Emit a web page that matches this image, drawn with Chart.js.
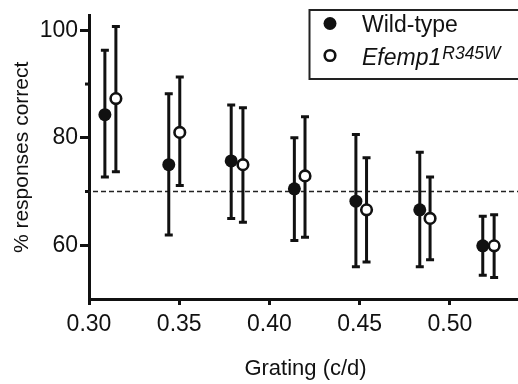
<!DOCTYPE html>
<html>
<head>
<meta charset="utf-8">
<script src="https://cdn.jsdelivr.net/npm/chart.js@4.4.1/dist/chart.umd.min.js"></script>
<style>
  html, body { margin: 0; padding: 0; background: #fff; overflow: hidden; }
  #wrap { position: relative; width: 530px; height: 384px; }
</style>
</head>
<body>
<div id="wrap"><canvas id="c" width="530" height="384"></canvas></div>
<script>
// ---- data ----
const seriesNames = ["Wild-type", "Efemp1"];
const seriesSup = ["", "R345W"];
const wtX  = [0.3088, 0.3442, 0.3788, 0.4138, 0.4479, 0.4833, 0.5182];
const wtY  = [84.3, 75.0, 75.7, 70.5, 68.2, 66.6, 59.9];
const wtHi = [96.3, 88.2, 86.1, 80.0, 80.6, 77.3, 65.4];
const wtLo = [72.7, 61.9, 65.0, 60.9, 56.0, 56.0, 54.4];
const efX  = [0.3149, 0.3503, 0.3853, 0.4197, 0.4538, 0.4890, 0.5245];
const efY  = [87.3, 81.0, 75.0, 72.9, 66.6, 65.0, 59.9];
const efHi = [100.7, 91.3, 85.6, 83.9, 76.3, 72.7, 65.7];
const efLo = [73.7, 71.1, 64.3, 61.5, 56.9, 57.3, 54.0];
const xTicks = [0.30, 0.35, 0.40, 0.45, 0.50];
const yTicks = [60, 80, 100];
const yMinorTicks = [70, 90];
const thresholdValue = 70;
const xTitle = "Grating (c/d)";
const yTitle = "% responses correct";

const FONT = "'Liberation Sans', Arial, Helvetica, sans-serif";
const INK = "#111";

const errLo = [wtLo, efLo];
const errHi = [wtHi, efHi];

const errorBars = {
  id: 'errorBars',
  beforeDatasetsDraw(chart) {
    const { ctx, scales: { x, y }, chartArea } = chart;
    ctx.save();
    // threshold dashed line
    const ty = y.getPixelForValue(thresholdValue);
    ctx.strokeStyle = '#222';
    ctx.lineWidth = 1.5;
    ctx.setLineDash([5, 3]);
    ctx.beginPath();
    ctx.moveTo(chartArea.left - 4, ty);
    ctx.lineTo(chart.width, ty);
    ctx.stroke();
    ctx.setLineDash([]);
    // error bars
    ctx.strokeStyle = INK;
    ctx.lineWidth = 3;
    chart.data.datasets.forEach((ds, i) => {
      ds.data.forEach((p, j) => {
        const px = x.getPixelForValue(p.x);
        const yh = y.getPixelForValue(errHi[i][j]);
        const yl = y.getPixelForValue(errLo[i][j]);
        ctx.beginPath();
        ctx.moveTo(px, yh); ctx.lineTo(px, yl);
        ctx.moveTo(px - 4, yh); ctx.lineTo(px + 4, yh);
        ctx.moveTo(px - 4, yl); ctx.lineTo(px + 4, yl);
        ctx.stroke();
      });
    });
    ctx.restore();
  },
  afterDraw(chart) {
    const { ctx, scales: { y }, chartArea } = chart;
    ctx.save();
    // minor ticks
    ctx.strokeStyle = INK;
    ctx.lineWidth = 3;
    yMinorTicks.forEach(v => {
      const py = y.getPixelForValue(v);
      ctx.beginPath();
      ctx.moveTo(chartArea.left - 4, py);
      ctx.lineTo(chartArea.left, py);
      ctx.stroke();
    });
    // legend
    ctx.lineWidth = 2;
    ctx.strokeStyle = '#222';
    ctx.fillStyle = '#fff';
    ctx.beginPath();
    ctx.rect(309.5, 10, 240, 69);
    ctx.fill();
    ctx.stroke();
    const rows = [23.5, 55.5];
    const bases = [32.3, 64.5];
    chart.data.datasets.forEach((ds, i) => {
      ctx.beginPath();
      ctx.arc(330, rows[i], ds.pointRadius, 0, Math.PI * 2);
      ctx.fillStyle = ds.pointBackgroundColor;
      ctx.fill();
      if (ds.pointBorderWidth > 0) {
        ctx.lineWidth = ds.pointBorderWidth;
        ctx.strokeStyle = ds.pointBorderColor;
        ctx.stroke();
      }
      ctx.fillStyle = INK;
      ctx.textBaseline = 'alphabetic';
      ctx.textAlign = 'left';
      const italic = i === 1 ? 'italic ' : '';
      ctx.font = italic + '23px ' + FONT;
      ctx.fillText(seriesNames[i], 362, bases[i]);
      if (seriesSup[i]) {
        const w = ctx.measureText(seriesNames[i]).width;
        ctx.font = italic + '17.5px ' + FONT;
        ctx.fillText(seriesSup[i], 362 + w + 1, bases[i] - 5.5);
      }
    });
    ctx.restore();
  }
};

new Chart(document.getElementById('c'), {
  type: 'scatter',
  data: {
    datasets: [
      {
        label: seriesNames[0] + seriesSup[0],
        data: wtX.map((v, i) => ({ x: v, y: wtY[i] })),
        pointRadius: 6.5,
        pointBackgroundColor: INK,
        pointBorderColor: INK,
        pointBorderWidth: 0,
        showLine: false
      },
      {
        label: seriesNames[1] + seriesSup[1],
        data: efX.map((v, i) => ({ x: v, y: efY[i] })),
        pointRadius: 5.3,
        pointBackgroundColor: '#fff',
        pointBorderColor: INK,
        pointBorderWidth: 2.6,
        showLine: false
      }
    ]
  },
  options: {
    responsive: false,
    animation: false,
    devicePixelRatio: 1,
    layout: { padding: { top: 12, right: 6.6, left: 0, bottom: 0 } },
    plugins: { legend: { display: false }, tooltip: { enabled: false } },
    scales: {
      x: {
        type: 'linear',
        min: 0.30, max: 0.54,
        afterBuildTicks: s => { s.ticks = xTicks.map(v => ({ value: v })); },
        afterFit: s => { s.height = 85; },
        ticks: { callback: v => Number(v).toFixed(2), color: INK, font: { family: FONT, size: 23 }, padding: 6, maxRotation: 0, autoSkip: false },
        grid: { drawOnChartArea: false, drawTicks: true, tickLength: 6, tickWidth: 3, tickColor: INK },
        border: { color: INK, width: 3 },
        title: { display: true, text: xTitle, color: INK, font: { family: FONT, size: 22 }, padding: { top: 0, bottom: 2 } }
      },
      y: {
        min: 50, max: 102.7,
        afterBuildTicks: s => { s.ticks = yTicks.map(v => ({ value: v })); },
        afterFit: s => { s.width = 89; },
        ticks: { color: INK, font: { family: FONT, size: 23 }, padding: 2 },
        grid: { drawOnChartArea: false, drawTicks: true, tickLength: 9, tickWidth: 3, tickColor: INK },
        border: { color: INK, width: 3 },
        title: { display: true, text: yTitle, color: INK, font: { family: FONT, size: 21 }, padding: { top: 10, bottom: 0 } }
      }
    }
  },
  plugins: [errorBars]
});
</script>
</body>
</html>
